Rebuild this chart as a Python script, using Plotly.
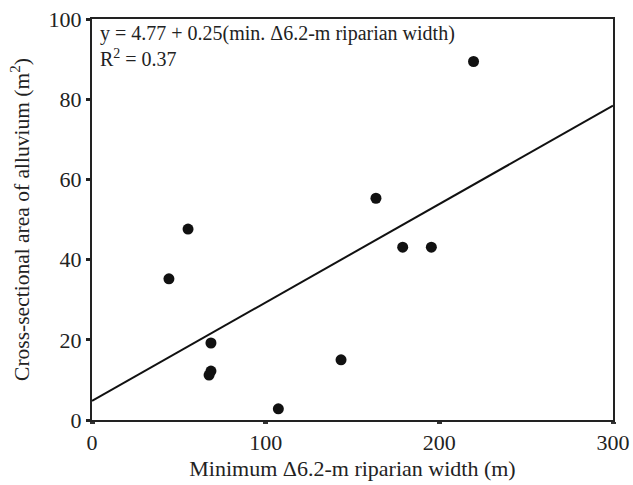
import plotly.graph_objects as go

# Data
width_m = [44.3, 55.3, 68.5, 68.5, 67.4, 107.3, 143.4, 163.5, 178.9, 195.4, 219.7]
area_m2 = [35.2, 47.6, 19.2, 12.2, 11.2, 2.8, 15.0, 55.3, 43.1, 43.1, 89.4]

fit_x = [0, 300]
fit_y = [4.77, 78.4]

x_ticks = [0, 100, 200, 300]
y_ticks = [0, 20, 40, 60, 80, 100]

equation_text = "y = 4.77 + 0.25(min. Δ6.2-m riparian width)<br>R<sup>2</sup> = 0.37"

FONT = "Liberation Serif, Times New Roman, serif"

fig = go.Figure()
fig.add_trace(go.Scatter(x=fit_x, y=fit_y, mode="lines",
                         line=dict(color="#111", width=2), showlegend=False,
                         hoverinfo="skip"))
fig.add_trace(go.Scatter(x=width_m, y=area_m2, mode="markers",
                         marker=dict(color="#111", size=11), showlegend=False))

fig.update_layout(
    width=633, height=485,
    margin=dict(l=92, r=20, t=19, b=65),
    paper_bgcolor="white", plot_bgcolor="white",
    font=dict(family=FONT, color="#222", size=20),
    annotations=[dict(text=equation_text, xref="paper", yref="paper",
                      x=0.012, y=0.998, xanchor="left", yanchor="top",
                      align="left", showarrow=False,
                      font=dict(family=FONT, size=20, color="#222"))],
)
fig.update_xaxes(range=[0, 300], tickvals=x_ticks, ticks="outside", ticklen=2,
                 tickwidth=5, tickcolor="#333", showline=True, linecolor="#222",
                 linewidth=2, mirror=True, showgrid=False, zeroline=False,
                 automargin=False, tickfont=dict(size=22),
                 title=dict(text="Minimum Δ6.2-m riparian width (m)",
                            font=dict(size=22), standoff=6))
fig.update_yaxes(range=[0, 100], tickvals=y_ticks, ticks="outside", ticklen=4,
                 tickwidth=3, tickcolor="#222", showline=True, linecolor="#222",
                 linewidth=2, mirror=True, showgrid=False, zeroline=False,
                 automargin=False, tickfont=dict(size=22),
                 title=dict(text="Cross-sectional area of alluvium (m<sup>2</sup>)",
                            font=dict(size=21.5), standoff=13))

fig.write_html("out.html", config={"displayModeBar": False},
               post_script="document.body.style.margin='0';document.body.style.padding='0';")
